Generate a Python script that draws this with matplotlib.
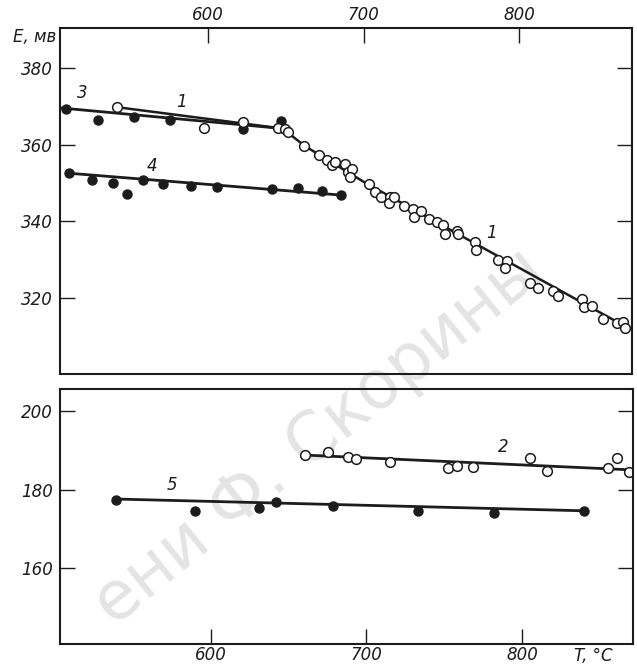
# E(T) для кривых 1-5, два поля
import numpy as np
import matplotlib.pyplot as plt

# кривая 1 (светлые кружки)
t1 = [541.3, 597.4, 622.3, 645.2, 649.5, 651.6, 661.7, 671.6, 676.3, 679.5,
      681.7, 688.1, 690.2, 692.4, 691.3, 703.7, 707.4, 711.3, 717.0, 716.6,
      719.8, 726.2, 732.0, 732.7, 737.2, 742.1, 747.1, 750.9, 752.4, 759.9,
      761.0, 771.7, 772.3, 786.7, 792.1, 791.0, 807.1, 812.4, 822.1, 825.3,
      840.3, 841.8, 846.7, 854.2, 862.8, 867.1, 868.2]
e1 = [369.8, 364.3, 365.9, 364.4, 364.2, 363.2, 359.7, 357.4, 355.9, 354.6,
      355.5, 354.8, 352.9, 353.5, 351.5, 349.6, 347.7, 346.4, 346.3, 344.6,
      346.4, 343.9, 343.1, 341.1, 342.6, 340.5, 339.7, 338.9, 336.7, 337.3,
      336.5, 334.5, 332.4, 329.9, 329.5, 327.6, 323.8, 322.6, 321.7, 320.4,
      319.5, 317.5, 317.7, 314.5, 313.3, 313.6, 311.9]
t1_line = [541.3, 648.0, 662.0, 702.0, 869.0]
e1_line = [369.8, 364.2, 359.7, 349.8, 312.3]

# кривая 3
t3 = [508.5, 529.5, 552.4, 575.6, 622.5, 647.0]
e3 = [369.4, 366.4, 367.3, 366.5, 364.0, 366.1]
t3_line = [505.0, 648.0]
e3_line = [369.6, 364.2]

# кривая 4
t4 = [510.8, 525.2, 538.7, 548.1, 558.0, 571.3, 589.1, 605.6, 641.0, 657.9,
      673.1, 685.5]
e4 = [352.6, 350.7, 350.0, 347.2, 350.7, 349.7, 349.2, 348.9, 348.5, 348.7,
      347.8, 346.8]
t4_line = [511.0, 685.5]
e4_line = [352.5, 346.8]

# кривая 2
t2 = [660.5, 675.2, 688.3, 693.4, 715.1, 752.7, 758.5, 768.3, 805.1, 815.9,
      855.3, 861.4, 868.8]
e2 = [188.7, 189.6, 188.4, 187.8, 187.0, 185.6, 186.1, 185.7, 188.0, 184.7,
      185.4, 188.1, 184.6]
t2_line = [659.2, 871.4]
e2_line = [188.8, 185.0]

# кривая 5
t5 = [538.6, 590.0, 631.1, 641.6, 678.3, 733.3, 782.2, 840.1]
e5 = [177.4, 174.6, 175.4, 176.9, 175.9, 174.6, 174.0, 174.6]
t5_line = [538.3, 840.1]
e5_line = [177.6, 174.6]

ink = '#1c1c1c'
fnt = dict(family='DejaVu Sans', style='italic', fontsize=12, color=ink)

fig = plt.figure(figsize=(6.37, 6.67), dpi=100)

# водяной знак
fig.text(0.5, 0.345, 'ени Ф. Скорины', rotation=39, fontsize=48,
         color='#e4e4e4', ha='center', va='center', zorder=-5)

ax1 = fig.add_axes([0.0942, 0.4393, 0.898, 0.5187])
ax2 = fig.add_axes([0.0942, 0.0345, 0.8995, 0.3823])

for ax in (ax1, ax2):
    ax.set_facecolor('none')
    for s in ax.spines.values():
        s.set_linewidth(1.5)
        s.set_color(ink)
    ax.tick_params(direction='in', length=11, width=1, color=ink,
                   labelcolor=ink, pad=5)

# верхнее поле
ax1.plot(t3_line, e3_line, color=ink, lw=2)
ax1.plot(t1_line, e1_line, color=ink, lw=1.8)
ax1.plot(t4_line, e4_line, color=ink, lw=2)
ax1.plot(t3, e3, 'o', color=ink, ms=6.5)
ax1.plot(t4, e4, 'o', color=ink, ms=6.5)
ax1.plot(t1, e1, 'o', mfc='white', mec=ink, mew=1.1, ms=7)
ax1.set_xlim(504.8, 872.7)
ax1.set_ylim(300, 390.5)
ax1.set_xticks([600, 700, 800])
ax1.set_yticks([320, 340, 360, 380])
ax1.tick_params(axis='x', top=True, bottom=False, labeltop=True,
                labelbottom=False, pad=3)
ax1.tick_params(axis='y', left=True, right=True)
ax1.text(519, 373.5, '3', ha='center', va='center', **fnt)
ax1.text(583, 371.1, '1', ha='center', va='center', **fnt)
ax1.text(564, 354.3, '4', ha='center', va='center', **fnt)
ax1.text(782, 336.8, '1', ha='center', va='center', **fnt)

# нижнее поле
ax2.plot(t2_line, e2_line, color=ink, lw=2)
ax2.plot(t5_line, e5_line, color=ink, lw=2)
ax2.plot(t5, e5, 'o', color=ink, ms=6.5)
ax2.plot(t2, e2, 'o', mfc='white', mec=ink, mew=1.1, ms=7)
ax2.set_xlim(502.9, 871.4)
ax2.set_ylim(140.7, 205.6)
ax2.set_xticks([600, 700, 800])
ax2.set_yticks([160, 180, 200])
ax2.tick_params(axis='x', pad=1.5)
ax2.tick_params(axis='y', left=True, right=True)
ax2.text(575, 181.2, '5', ha='center', va='center', **fnt)
ax2.text(788, 190.8, '2', ha='center', va='center', **fnt)

for ax in (ax1, ax2):
    for lab in ax.get_xticklabels() + ax.get_yticklabels():
        lab.set_fontstyle('italic')
        lab.set_fontsize(12)

fig.text(0.02, 0.945, 'E, мв', ha='left', va='center', **fnt)
fig.text(0.931, 0.016, 'T, °C', ha='center', va='center', **fnt)

fig.savefig('out.png', dpi=100, facecolor='white')
